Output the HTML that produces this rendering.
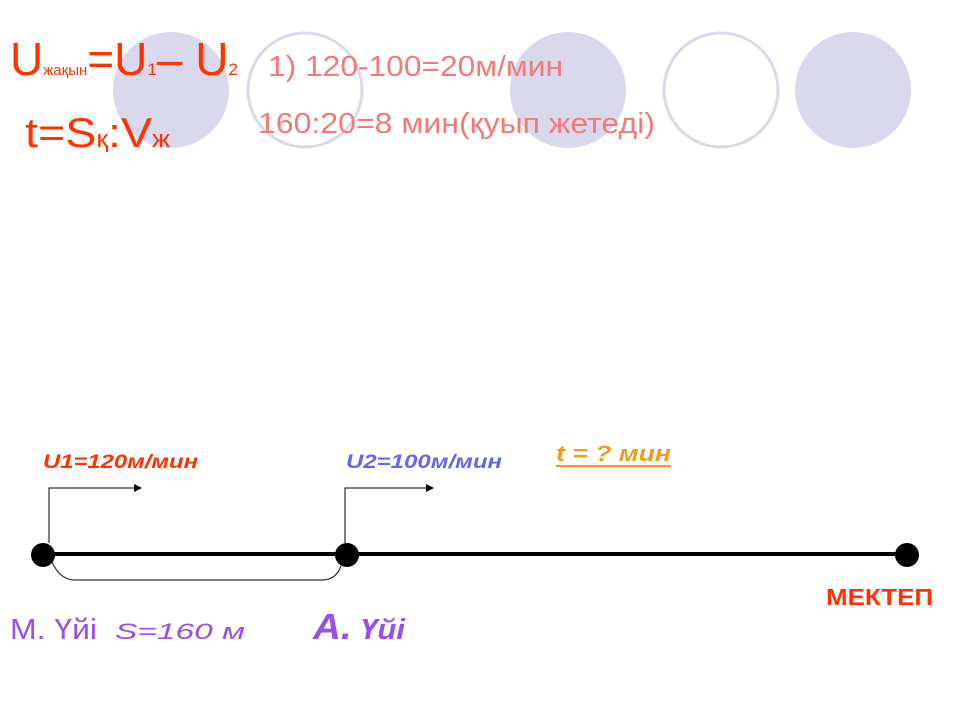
<!DOCTYPE html>
<html><head><meta charset="utf-8"><style>
html,body{margin:0;padding:0;background:#fff;}
svg{display:block;}
text{font-family:"Liberation Sans",sans-serif;}
</style></head><body>
<svg width="960" height="720" viewBox="0 0 960 720" xmlns="http://www.w3.org/2000/svg">
<circle cx="171" cy="90" r="58" fill="#d9d8ec"/>
<circle cx="305" cy="90" r="57" fill="none" stroke="#d9d8ec" stroke-width="3"/>
<circle cx="568" cy="90" r="58" fill="#d9d8ec"/>
<circle cx="721" cy="90" r="57" fill="none" stroke="#d9d8ec" stroke-width="3"/>
<circle cx="853" cy="90" r="58" fill="#d9d8ec"/>

<text x="10" y="75" font-size="46" fill="#ff3300" textLength="228" lengthAdjust="spacingAndGlyphs">U<tspan font-size="15">жақын</tspan>=U<tspan font-size="17">1</tspan>– U<tspan font-size="17">2</tspan></text>
<text x="25" y="147" font-size="42" fill="#ff3300" textLength="145" lengthAdjust="spacingAndGlyphs">t=S<tspan font-size="24">қ</tspan>:V<tspan font-size="24">ж</tspan></text>

<text x="268" y="76" font-size="29" fill="#f47a7a" textLength="295" lengthAdjust="spacingAndGlyphs">1) 120-100=20м/мин</text>
<text x="258" y="133" font-size="29" fill="#f47a7a" textLength="397" lengthAdjust="spacingAndGlyphs">160:20=8 мин(қуып жетеді)</text>

<text x="43" y="468" font-size="19" font-weight="bold" font-style="italic" fill="#ff3300" textLength="155" lengthAdjust="spacingAndGlyphs">U1=120м/мин</text>
<text x="346" y="468" font-size="19" font-weight="bold" font-style="italic" fill="#6666ee" textLength="156" lengthAdjust="spacingAndGlyphs">U2=100м/мин</text>
<text x="556" y="461" font-size="22" font-weight="bold" font-style="italic" fill="#f29a1a" textLength="115" lengthAdjust="spacingAndGlyphs">t = ? мин</text>
<line x1="556" y1="466" x2="671" y2="466" stroke="#f29a1a" stroke-width="2"/>

<polyline points="49,543 49,488 134,488" fill="none" stroke="#000" stroke-width="1"/>
<polygon points="134,484 142,488 134,492" fill="#000"/>
<polyline points="345,543 345,488 426,488" fill="none" stroke="#000" stroke-width="1"/>
<polygon points="426,484 434,488 426,492" fill="#000"/>

<path d="M52,562 Q60,580 75,580 L322,580 Q336,580 341,566" fill="none" stroke="#333" stroke-width="1.2"/>
<line x1="43" y1="554" x2="907" y2="554" stroke="#000" stroke-width="4"/>
<circle cx="43" cy="555" r="12" fill="#000"/>
<circle cx="347" cy="555" r="12" fill="#000"/>
<circle cx="907" cy="555" r="12" fill="#000"/>

<text x="826" y="605" font-size="23" font-weight="bold" fill="#ff3300" textLength="107" lengthAdjust="spacingAndGlyphs">МЕКТЕП</text>
<text x="10" y="639" font-size="29" fill="#9a4ef0" textLength="87" lengthAdjust="spacingAndGlyphs">М. Үйі</text>
<text x="115" y="639" font-size="22" font-style="italic" fill="#9a4ef0" font-family="Liberation Serif, serif" textLength="130" lengthAdjust="spacingAndGlyphs">S=160 м</text>
<text x="313" y="639" font-size="36" font-weight="bold" font-style="italic" fill="#9a4ef0" textLength="92" lengthAdjust="spacingAndGlyphs">А.<tspan font-size="29"> Үйі</tspan></text>
</svg>
</body></html>
